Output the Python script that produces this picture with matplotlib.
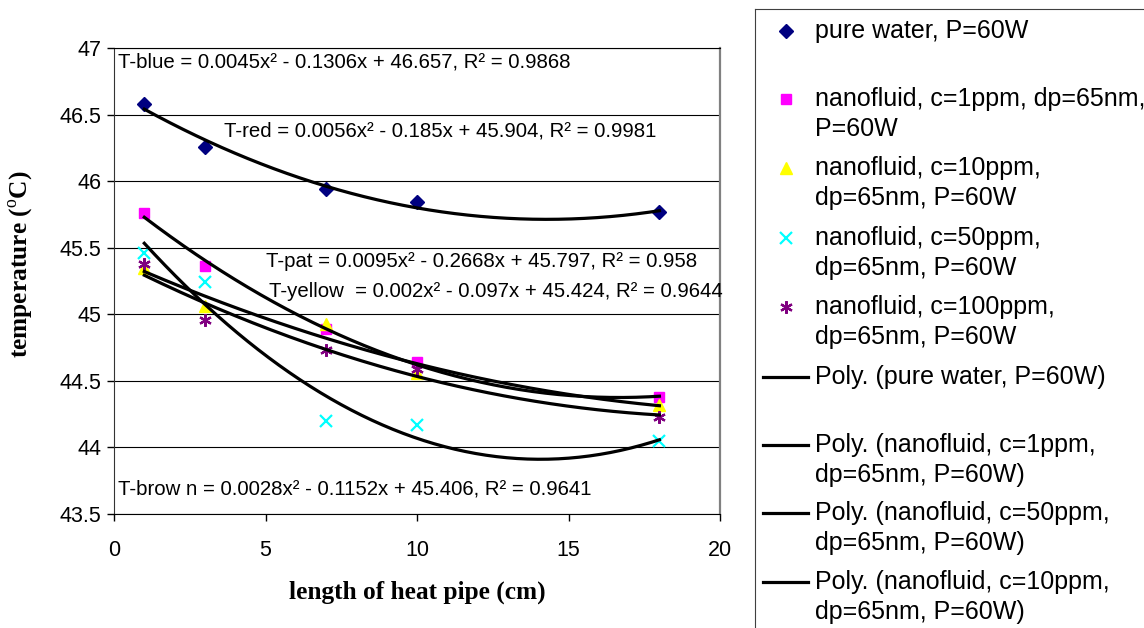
import numpy as np
import matplotlib.pyplot as plt

plt.rcParams['font.family'] = ['Liberation Sans', 'DejaVu Sans']
plt.rcParams['mathtext.fontset'] = 'custom'
plt.rcParams['mathtext.rm'] = 'Liberation Serif'

# data
length = [1, 3, 7, 10, 18]
pure_water = [46.58, 46.26, 45.94, 45.84, 45.77]
c1ppm = [45.76, 45.36, 44.89, 44.64, 44.38]
c10ppm = [45.35, 45.06, 44.93, 44.56, 44.32]
c50ppm = [45.46, 45.24, 44.20, 44.17, 44.05]
c100ppm = [45.38, 44.96, 44.73, 44.59, 44.23]

series = [
    (pure_water, 'D', '#000080', 7, 'pure water, P=60W'),
    (c1ppm, 's', '#FF00FF', 7, 'nanofluid, c=1ppm, dp=65nm,\nP=60W'),
    (c10ppm, '^', '#FFFF00', 8, 'nanofluid, c=10ppm,\ndp=65nm, P=60W'),
    (c50ppm, 'x', '#00FFFF', 9, 'nanofluid, c=50ppm,\ndp=65nm, P=60W'),
    (c100ppm, (6, 2, 0), '#800080', 9, 'nanofluid, c=100ppm,\ndp=65nm, P=60W'),
]

eq_texts = [
    (0.13, 46.895, 'T-blue = 0.0045x² - 0.1306x + 46.657, R² = 0.9868'),
    (3.62, 46.376, 'T-red = 0.0056x² - 0.185x + 45.904, R² = 0.9981'),
    (5.03, 45.40, 'T-pat = 0.0095x² - 0.2668x + 45.797, R² = 0.958'),
    (5.10, 45.174, 'T-yellow  = 0.002x² - 0.097x + 45.424, R² = 0.9644'),
    (0.13, 43.687, 'T-brow n = 0.0028x² - 0.1152x + 45.406, R² = 0.9641'),
]

poly_labels = ['Poly. (pure water, P=60W)',
               'Poly. (nanofluid, c=1ppm,\ndp=65nm, P=60W)',
               'Poly. (nanofluid, c=50ppm,\ndp=65nm, P=60W)',
               'Poly. (nanofluid, c=10ppm,\ndp=65nm, P=60W)']

W, H = 1144, 628
fig = plt.figure(figsize=(W / 100, H / 100), dpi=100)
ax = fig.add_axes([114 / W, 1 - 514 / H, (720 - 114) / W, (514 - 48) / H])

xs = np.linspace(1, 18, 200)
for vals, mk, col, ms, lab in series:
    ax.plot(length, vals, linestyle='none', marker=mk, color=col, ms=ms,
            mew=1.6 if mk == 'x' or isinstance(mk, tuple) else 1, zorder=2)
    # Excel-style 2nd order trendline
    coef = np.polyfit(length, vals, 2)
    ax.plot(xs, np.polyval(coef, xs), color='black', lw=2.3, zorder=3)

ax.set_xlim(0, 20)
ax.set_ylim(43.5, 47)
ax.set_xticks([0, 5, 10, 15, 20])
ax.set_yticks(np.arange(43.5, 47.01, 0.5))
ax.set_yticklabels(['43.5', '44', '44.5', '45', '45.5', '46', '46.5', '47'])
ax.yaxis.grid(True, color='black', lw=0.8)
ax.tick_params(axis='both', labelsize=15.5, direction='out', length=5, width=1)
ax.tick_params(axis='x', pad=14)
ax.tick_params(axis='y', pad=4)
ax.spines['right'].set_color('#808080')
ax.spines['right'].set_linewidth(1.6)
ax.spines['top'].set_linewidth(0.8)
ax.spines['left'].set_color('#333333')

for x, y, t in eq_texts:
    ax.text(x, y, t, fontsize=14.7, ha='left', va='center', zorder=4)

fig.text(417 / W, 1 - 592 / H, 'length of heat pipe (cm)', family='Liberation Serif',
         weight='bold', fontsize=18.3, ha='center', va='center')
fig.text(22 / W, 1 - 264 / H, r'temperature ($^{\mathrm{o}}$C)', family='Liberation Serif',
         weight='bold', fontsize=18.3, ha='center', va='center', rotation=90)

# legend box, drawn in pixel coordinates
lax = fig.add_axes([755 / W, 0, 1 - 755 / W, 1 - 9 / H])
lax.set_xlim(755, W)
lax.set_ylim(H, 9)
lax.set_xticks([])
lax.set_yticks([])
lax.spines['bottom'].set_visible(False)
lax.spines['right'].set_visible(False)
lax.spines['left'].set_color('#404040')
lax.spines['top'].set_color('#404040')

marker_rows = [31, 99, 168, 238, 307]
line_rows = [377, 445, 513, 582]
for (vals, mk, col, ms, lab), yy in zip(series, marker_rows):
    lax.plot([786], [yy], linestyle='none', marker=mk, color=col, ms=ms,
             mew=1.6 if mk == 'x' or isinstance(mk, tuple) else 1)
    for i, part in enumerate(lab.split('\n')):
        lax.text(815, yy + 30 * i, part, fontsize=18, ha='left', va='center')
for lab, yy in zip(poly_labels, line_rows):
    lax.plot([763, 808], [yy, yy], color='black', lw=2.3)
    for i, part in enumerate(lab.split('\n')):
        lax.text(815, yy + 30 * i, part, fontsize=18, ha='left', va='center')

fig.savefig('out.png', dpi=100)
